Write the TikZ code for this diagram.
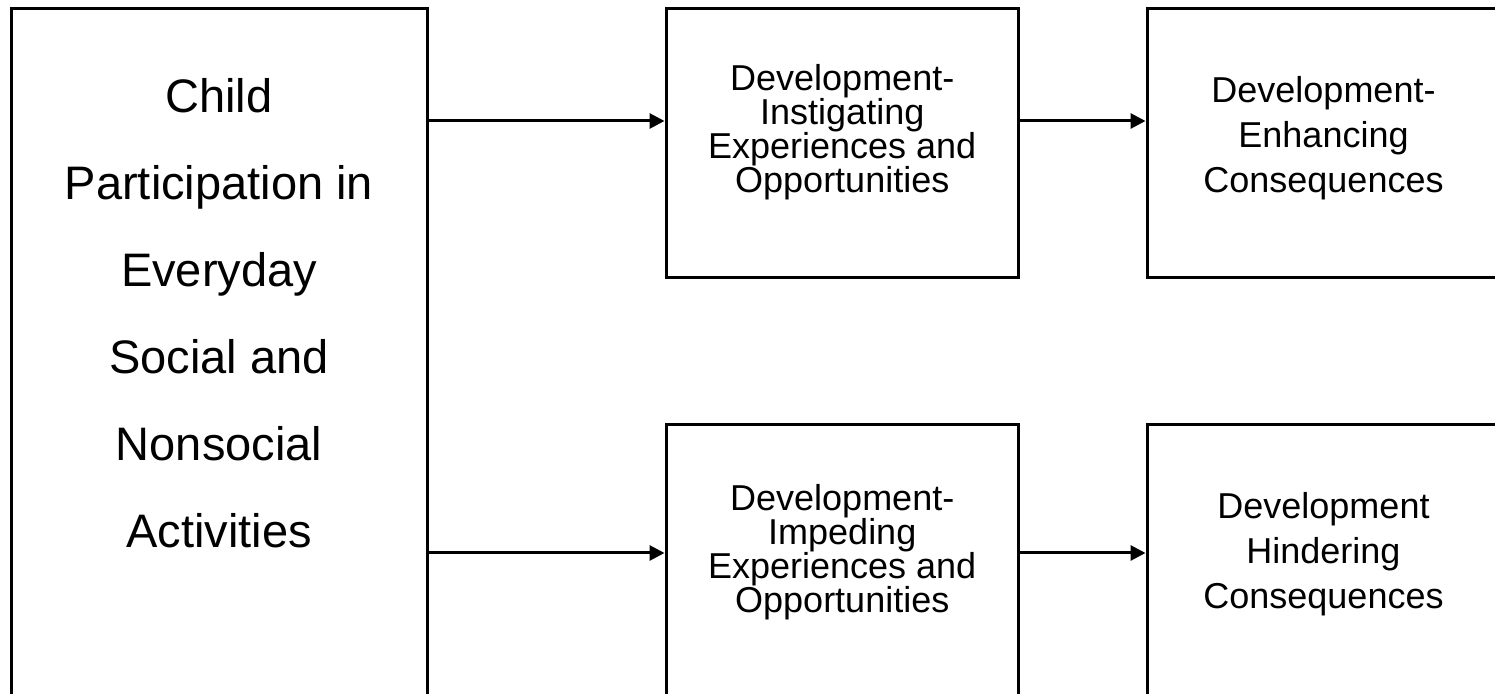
\documentclass[tikz,border=0pt]{standalone}
\usepackage{fontspec}
\setmainfont{Liberation Sans}
\usetikzlibrary{arrows.meta}

\begin{document}
\begin{tikzpicture}[x=0.5pt, y=-0.5pt]
    \tikzset{BoxStyle/.style   = {draw, line width=1.5pt, inner sep=0pt},
        TextStyle/.style  = {align=center, inner sep=0pt},
        BigText/.style    = {TextStyle, font=\fontsize{23.5}{43.5}\selectfont},
        MidText/.style    = {TextStyle, font=\fontsize{18}{17}\selectfont},
        EndText/.style    = {TextStyle, font=\fontsize{18}{22.5}\selectfont},
        ArrowStyle/.style = {-{Triangle[length=7.5pt, width=7.5pt]}, line width=1.5pt}}
    \useasboundingbox (0,0) rectangle (1495,694);
    \node[BoxStyle, minimum width=208pt, minimum height=355.5pt] (child) at (219,364.5) {};
    \node[BigText, yshift=25.75pt] at (child) {Child\\Participation in\\Everyday\\Social and\\Nonsocial\\Activities};
    \node[BoxStyle, minimum width=176.25pt, minimum height=134.5pt] (instig) at (842.25,143.5) {};
    \node[MidText, yshift=5.75pt] at (instig) {Development-\\Instigating\\Experiences and\\Opportunities};
    \node[BoxStyle, minimum width=176.5pt, minimum height=134.5pt] (enhance) at (1323.5,143.5) {};
    \node[EndText, yshift=2.5pt] at (enhance) {Development-\\Enhancing\\Consequences};
    \node[BoxStyle, minimum width=176.25pt, minimum height=147.5pt] (impede) at (842.25,572.5) {};
    \node[MidText, yshift=10.25pt] at (impede) {Development-\\Impeding\\Experiences and\\Opportunities};
    \node[BoxStyle, minimum width=176.5pt, minimum height=147.5pt] (hinder) at (1323.5,572.5) {};
    \node[EndText, yshift=9.25pt] at (hinder) {Development\\Hindering\\Consequences};
    \coordinate (up) at ([yshift=11.25pt]instig.west);
    \coordinate (down) at ([yshift=9.75pt]impede.west);
    \draw[ArrowStyle] (child.east |- up) -- (up);
    \draw[ArrowStyle] (instig.east |- up) -- (enhance.west |- up);
    \draw[ArrowStyle] (child.east |- down) -- (down);
    \draw[ArrowStyle] (impede.east |- down) -- (hinder.west |- down);
\end{tikzpicture}
\end{document}
